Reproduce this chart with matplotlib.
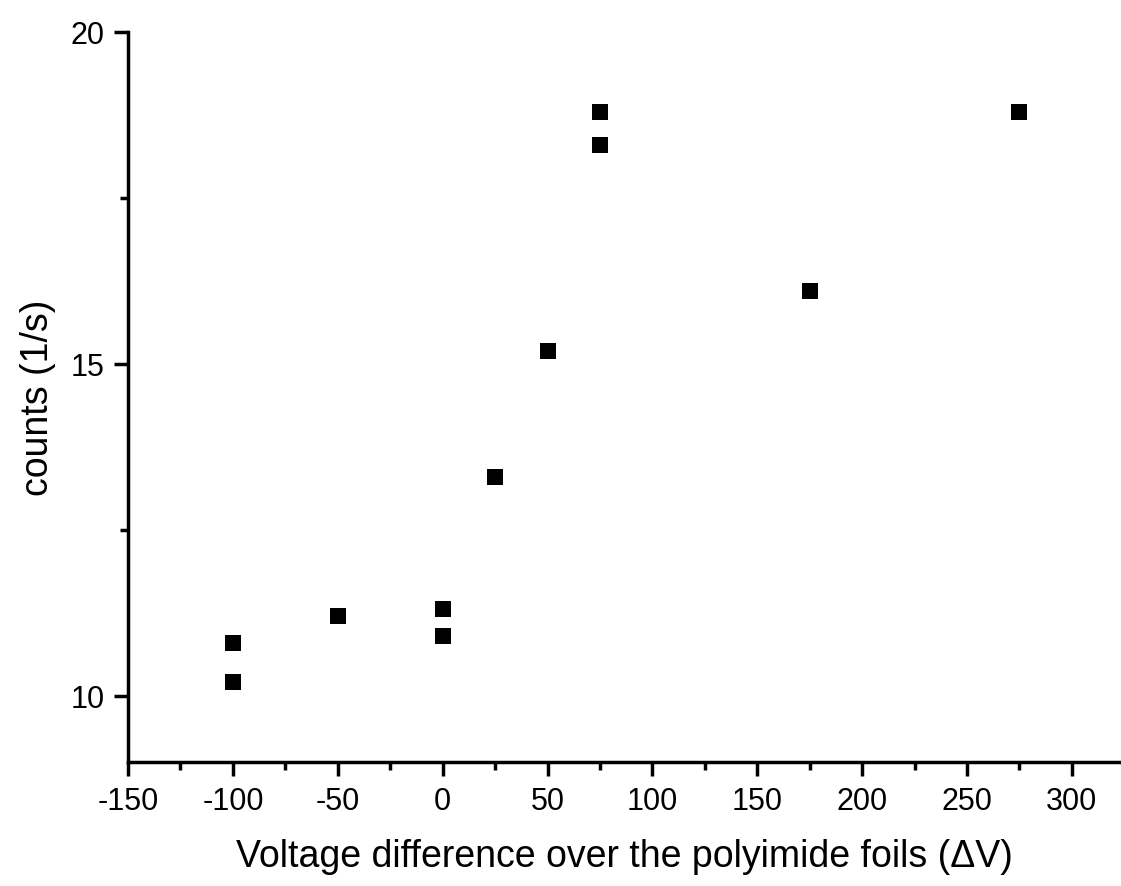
import matplotlib
matplotlib.use("Agg")
import matplotlib.pyplot as plt
from matplotlib.ticker import MultipleLocator

# measured points: voltage difference (V) vs counts (1/s)
voltageVec = [-100, -100, -50, 0, 0, 25, 50, 75, 75, 175, 275]
countsVec = [10.8, 10.2, 11.2, 11.3, 10.9, 13.3, 15.2, 18.8, 18.3, 16.1, 18.8]

plt.rcParams['font.family'] = ['Liberation Sans', 'DejaVu Sans']
plt.rcParams['axes.unicode_minus'] = False

fig = plt.figure(figsize=(11.21, 8.87), dpi=100)
ax = fig.add_axes([0.1142, 0.1398, 0.885, 0.823])

ax.plot(voltageVec, countsVec, 's', color='black', markersize=11.5, markeredgewidth=0)

ax.set_xlim(-150, 323)
ax.set_ylim(9, 20)

ax.xaxis.set_major_locator(MultipleLocator(50))
ax.xaxis.set_minor_locator(MultipleLocator(25))
ax.yaxis.set_major_locator(MultipleLocator(5))
ax.yaxis.set_minor_locator(MultipleLocator(2.5))

for side in ['top', 'right']:
    ax.spines[side].set_visible(False)
for side in ['left', 'bottom']:
    ax.spines[side].set_linewidth(2.5)

ax.tick_params(which='major', direction='out', length=10, width=2.5, labelsize=22, pad=7)
ax.tick_params(which='minor', direction='out', length=6, width=2.5)

ax.set_xlabel("Voltage difference over the polyimide foils (\u0394V)", fontsize=27, labelpad=16)
ax.set_ylabel("counts (1/s)", fontsize=27, labelpad=10)

fig.savefig("out.png", dpi=100)
